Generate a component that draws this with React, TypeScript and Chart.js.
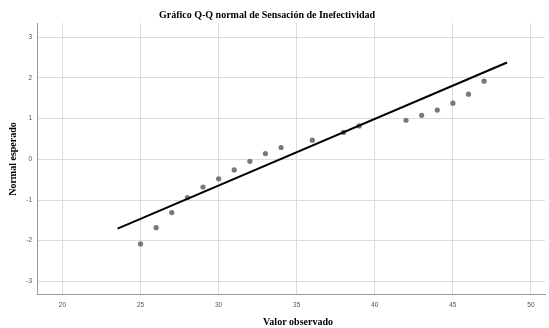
import React, { useEffect, useRef } from "react";
import { Chart, registerables } from "chart.js";

Chart.register(...registerables);

const titleText = "Gráfico Q-Q normal de Sensación de Inefectividad";
const xTitle = "Valor observado";
const yTitle = "Normal esperado";

const observed = [25, 26, 27, 28, 29, 30, 31, 32, 33, 34, 36, 38, 39, 42, 43, 44, 45, 46, 47];
const expected = [-2.08, -1.68, -1.31, -0.94, -0.68, -0.48, -0.26, -0.05, 0.14, 0.29, 0.47, 0.66, 0.82, 0.96, 1.08, 1.21, 1.38, 1.6, 1.92];

const refLineX = [23.53, 48.47];
const refLineY = [-1.705, 2.38];

const xTicks = [20, 25, 30, 35, 40, 45, 50];
const yTicks = [-3, -2, -1, 0, 1, 2, 3];

const textPlugin = {
  id: "textPlugin",
  afterDraw(chart: any) {
    const ctx = chart.ctx;
    ctx.save();
    ctx.fillStyle = "#000";
    ctx.textAlign = "center";
    ctx.textBaseline = "middle";
    ctx.font = "bold 10px 'Liberation Serif'";
    ctx.fillText(titleText, 267, 15.5);
    ctx.fillText(xTitle, 298, 322.5);
    ctx.translate(13, 159);
    ctx.rotate(-Math.PI / 2);
    ctx.fillText(yTitle, 0, 0);
    ctx.restore();
  },
};

export default function App() {
  const ref = useRef<HTMLCanvasElement>(null);
  useEffect(() => {
    if (!ref.current) return;
    const chart = new Chart(ref.current, {
      type: "scatter",
      data: {
        datasets: [
          {
            type: "line",
            data: refLineX.map((x, i) => ({ x, y: refLineY[i] })),
            borderColor: "#000",
            borderWidth: 2,
            pointRadius: 0,
            fill: false,
          } as any,
          {
            data: observed.map((x, i) => ({ x, y: expected[i] })),
            backgroundColor: "#787878",
            borderColor: "#787878",
            pointRadius: 2.6,
            borderWidth: 0,
          },
        ],
      },
      options: {
        animation: false,
        responsive: false,
        devicePixelRatio: 1,
        layout: { padding: { top: 23, right: 2, left: 0, bottom: 0 } },
        plugins: { legend: { display: false }, title: { display: false }, tooltip: { enabled: false } },
        scales: {
          x: {
            type: "linear",
            min: 18.37,
            max: 50.9,
            afterBuildTicks: (s: any) => {
              s.ticks = xTicks.map((v) => ({ value: v }));
            },
            afterFit: (s: any) => {
              s.height = 34;
            },
            grid: { color: "#dcdcdc", lineWidth: 1, drawTicks: false },
            border: { color: "#9a9a9a", width: 1 },
            ticks: { padding: 7, color: "#555", font: { size: 6.5, family: "'Liberation Sans'" }, maxRotation: 0 },
          },
          y: {
            type: "linear",
            min: -3.31,
            max: 3.35,
            afterBuildTicks: (s: any) => {
              s.ticks = yTicks.map((v) => ({ value: v }));
            },
            afterFit: (s: any) => {
              s.width = 37;
            },
            grid: { color: "#dcdcdc", lineWidth: 1, drawTicks: false },
            border: { color: "#9a9a9a", width: 1 },
            ticks: { padding: 5, color: "#555", font: { size: 6.5, family: "'Liberation Sans'" } },
          },
        },
      },
      plugins: [textPlugin],
    });
    return () => chart.destroy();
  }, []);
  return (
    <div style={{ position: "fixed", left: 0, top: 0, width: 549, height: 328, background: "#fff" }}>
      <canvas ref={ref} width={549} height={328} />
    </div>
  );
}
